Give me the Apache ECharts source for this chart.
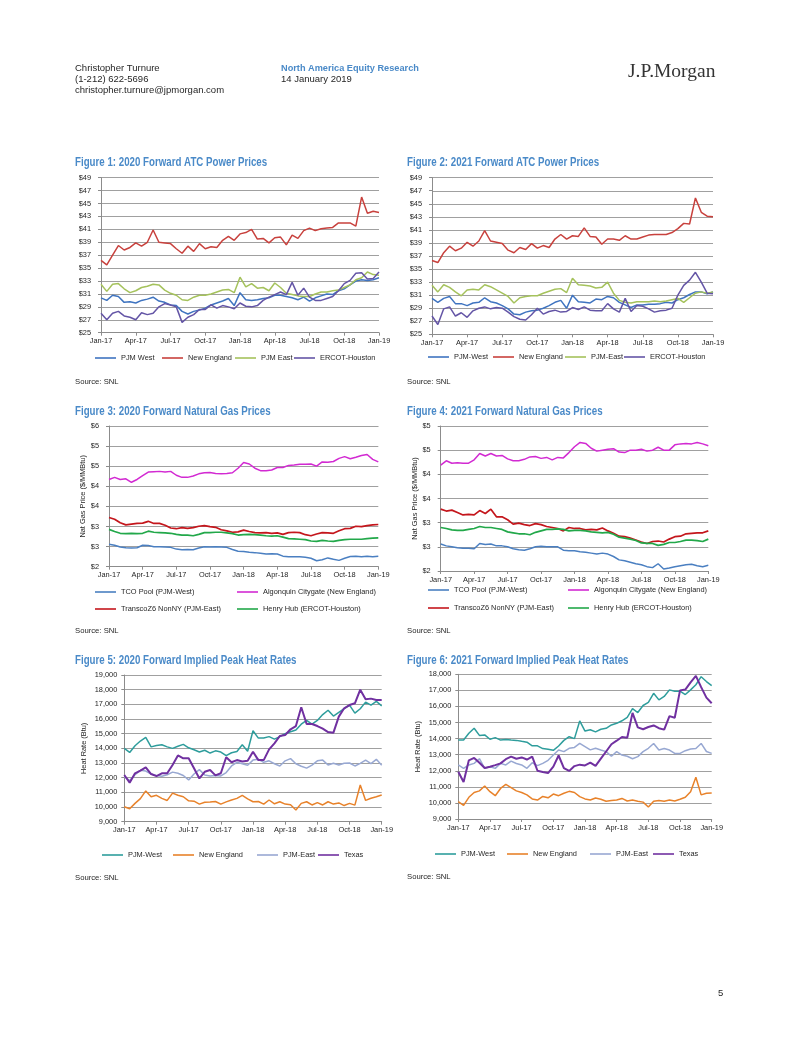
<!DOCTYPE html>
<html><head><meta charset="utf-8">
<script src="https://cdn.jsdelivr.net/npm/echarts@6.0.0/dist/echarts.min.js"></script>
<style>html,body{margin:0;padding:0;background:#fff}#c{width:802px;height:1037px}</style>
</head><body><div id="c"></div>
<script>
// ---------- categories (semi-monthly observations) ----------
const dates = ['2017-01-01','2017-01-15','2017-02-01','2017-02-15','2017-03-01','2017-03-15','2017-04-01','2017-04-15','2017-05-01','2017-05-15','2017-06-01','2017-06-15','2017-07-01','2017-07-15','2017-08-01','2017-08-15','2017-09-01','2017-09-15','2017-10-01','2017-10-15','2017-11-01','2017-11-15','2017-12-01','2017-12-15','2018-01-01','2018-01-15','2018-02-01','2018-02-15','2018-03-01','2018-03-15','2018-04-01','2018-04-15','2018-05-01','2018-05-15','2018-06-01','2018-06-15','2018-07-01','2018-07-15','2018-08-01','2018-08-15','2018-09-01','2018-09-15','2018-10-01','2018-10-15','2018-11-01','2018-11-15','2018-12-01','2018-12-15','2019-01-01'];
const monthNames = ['Jan','Feb','Mar','Apr','May','Jun','Jul','Aug','Sep','Oct','Nov','Dec'];

// ---------- Figure 1: 2020 Forward ATC Power Prices ($/MWh) ----------
const f1PjmWest = [30.4,30.0,30.8,30.6,29.7,29.8,29.6,30.0,30.2,30.5,29.9,29.7,29.3,29.2,28.3,27.9,28.3,28.5,28.8,29.3,29.6,29.9,30.3,29.2,31.2,30.1,30.0,30.1,30.3,30.4,30.8,30.8,30.6,30.4,30.1,30.5,29.9,30.4,30.7,31.0,30.9,31.5,31.8,32.4,33.0,33.2,33.1,33.2,33.5];
const f1NewEngland = [36.2,35.5,37.0,38.5,37.8,38.2,38.9,38.4,39.0,40.9,39.0,38.9,38.8,38.0,37.3,38.4,37.6,38.8,38.0,38.3,38.2,39.3,39.9,39.3,40.3,40.5,41.0,39.5,39.6,38.9,39.7,39.8,38.6,40.1,39.6,40.8,41.2,40.8,41.1,41.2,41.3,42.0,42.0,42.0,41.5,46.0,43.5,43.8,43.6];
const f1PjmEast = [32.5,31.4,32.5,32.6,31.8,31.2,31.5,32.0,32.2,32.5,32.4,31.6,31.1,30.8,30.1,30.0,30.5,30.8,30.8,31.0,31.3,31.6,31.7,31.2,33.6,32.1,32.6,31.9,32.0,31.5,32.7,32.0,31.1,30.9,30.7,30.6,30.6,31.0,31.3,31.3,31.5,31.6,32.0,32.4,33.2,33.5,34.4,34.0,33.9];
const f1Ercot = [28.0,27.0,28.0,28.3,27.6,27.4,27.0,28.1,27.8,28.0,29.0,29.5,29.3,29.0,26.6,27.4,27.8,28.6,28.6,29.3,28.8,29.2,29.0,28.7,29.6,29.1,29.0,29.2,30.0,30.5,30.9,31.3,30.9,32.8,30.8,31.9,30.5,30.0,30.0,30.3,30.6,31.5,32.6,33.1,34.2,34.3,33.3,33.4,34.4];

// ---------- Figure 2: 2021 Forward ATC Power Prices ----------
const f2PjmWest = [30.5,29.9,30.5,30.8,29.7,29.7,29.4,29.8,29.9,30.6,30.0,29.8,29.4,28.9,28.1,28.0,28.4,28.6,28.7,29.0,29.4,29.9,30.2,29.0,31.0,30.0,29.9,29.8,30.4,30.3,30.8,30.6,29.9,29.5,29.1,29.5,29.5,29.6,29.6,29.7,29.9,29.8,30.3,30.6,31.1,31.5,31.5,31.2,31.5];
const f2NewEngland = [36.3,36.0,37.5,38.5,37.8,38.2,39.1,38.5,39.3,40.9,39.3,39.1,38.9,37.9,37.5,38.3,38.0,38.9,38.2,38.6,38.3,39.6,40.3,39.6,40.1,40.0,41.3,40.0,39.9,38.8,39.6,39.6,39.4,40.1,39.6,39.6,39.9,40.2,40.3,40.3,40.3,40.6,41.2,42.0,41.9,45.9,43.7,43.1,43.0];
const f2PjmEast = [32.5,31.5,32.6,32.2,31.5,30.9,31.8,31.9,31.8,32.6,32.3,31.8,31.3,30.8,29.8,30.6,30.8,30.9,30.9,31.3,31.6,31.9,32.0,31.4,33.6,32.6,32.5,32.4,32.1,32.2,33.0,31.3,30.2,29.9,29.8,30.0,30.0,30.0,30.1,30.0,30.1,30.3,30.5,29.9,30.6,31.3,31.5,31.3,31.5];
const f2Ercot = [27.8,26.5,28.9,29.2,27.8,28.3,27.6,28.6,29.0,29.2,28.9,29.1,29.0,28.4,27.7,27.3,27.2,28.0,29.0,28.1,28.5,28.7,28.4,28.5,29.1,28.8,29.2,28.7,28.6,28.6,29.7,28.9,28.4,30.5,28.5,29.4,29.3,28.9,28.4,28.6,28.7,29.0,31.0,32.5,33.3,34.5,33.0,31.3,31.2];

// ---------- Figure 3: 2020 Forward Natural Gas Prices ($/MMBtu) ----------
const f3Tco = [2.64,2.61,2.56,2.54,2.53,2.54,2.61,2.60,2.57,2.57,2.56,2.55,2.50,2.48,2.49,2.48,2.53,2.57,2.56,2.57,2.56,2.55,2.49,2.44,2.43,2.41,2.40,2.38,2.36,2.37,2.36,2.30,2.28,2.28,2.28,2.27,2.24,2.17,2.20,2.25,2.21,2.18,2.24,2.29,2.30,2.28,2.30,2.28,2.30];
const f3Algonquin = [4.48,4.54,4.48,4.50,4.40,4.48,4.59,4.69,4.70,4.71,4.69,4.71,4.60,4.54,4.54,4.58,4.64,4.67,4.68,4.65,4.64,4.65,4.67,4.80,4.96,4.92,4.80,4.73,4.73,4.75,4.82,4.82,4.88,4.89,4.91,4.91,4.92,4.86,4.98,4.97,4.99,5.08,5.13,5.07,5.11,5.16,5.19,5.05,4.98];
const f3Transco = [3.40,3.35,3.25,3.19,3.21,3.23,3.24,3.29,3.23,3.23,3.18,3.10,3.08,3.11,3.09,3.11,3.15,3.17,3.14,3.12,3.05,3.02,2.98,2.99,3.04,3.00,2.97,2.96,2.97,2.95,2.96,2.92,2.97,2.98,2.97,2.91,2.88,2.93,2.97,2.96,2.95,3.02,3.08,3.09,3.15,3.14,3.17,3.19,3.20];
const f3HenryHub = [3.06,3.00,2.95,2.94,2.95,2.94,2.95,3.01,2.98,2.97,2.96,2.95,2.92,2.90,2.90,2.88,2.92,2.97,2.97,2.98,2.98,2.96,2.94,2.90,2.91,2.92,2.91,2.90,2.88,2.87,2.88,2.84,2.80,2.79,2.78,2.77,2.73,2.72,2.75,2.73,2.72,2.75,2.77,2.78,2.78,2.78,2.80,2.81,2.82];

// ---------- Figure 4: 2021 Forward Natural Gas Prices ----------
const f4Tco = [2.56,2.52,2.50,2.48,2.47,2.47,2.46,2.57,2.55,2.56,2.52,2.52,2.50,2.46,2.44,2.43,2.46,2.50,2.51,2.50,2.50,2.50,2.43,2.42,2.42,2.40,2.39,2.37,2.35,2.37,2.35,2.30,2.23,2.21,2.18,2.15,2.13,2.09,2.07,2.15,2.04,2.06,2.09,2.11,2.13,2.14,2.11,2.09,2.12];
const f4Algonquin = [4.19,4.28,4.23,4.24,4.23,4.23,4.30,4.43,4.38,4.43,4.38,4.39,4.32,4.28,4.28,4.31,4.36,4.37,4.33,4.35,4.30,4.35,4.34,4.45,4.57,4.66,4.64,4.54,4.48,4.50,4.52,4.53,4.46,4.45,4.50,4.50,4.52,4.48,4.50,4.56,4.50,4.50,4.61,4.63,4.64,4.63,4.66,4.63,4.59];
const f4Transco = [3.28,3.24,3.26,3.21,3.16,3.17,3.16,3.25,3.19,3.28,3.12,3.12,3.06,2.97,2.99,2.96,2.94,2.98,2.96,2.92,2.90,2.88,2.83,2.90,2.88,2.88,2.85,2.86,2.85,2.89,2.83,2.78,2.72,2.71,2.68,2.64,2.60,2.57,2.61,2.62,2.60,2.66,2.71,2.72,2.77,2.78,2.79,2.79,2.83];
const f4HenryHub = [2.90,2.88,2.85,2.84,2.84,2.86,2.88,2.92,2.90,2.90,2.88,2.86,2.81,2.79,2.77,2.77,2.75,2.80,2.83,2.86,2.86,2.87,2.86,2.83,2.84,2.84,2.83,2.81,2.80,2.79,2.80,2.76,2.70,2.68,2.66,2.63,2.58,2.57,2.57,2.53,2.55,2.59,2.59,2.61,2.64,2.64,2.63,2.61,2.66];

// ---------- Figure 5: 2020 Forward Implied Peak Heat Rates (Btu) ----------
const f5PjmWest = [14000,13720,14180,14500,14750,14100,14200,14250,14100,14000,14140,14270,14040,13900,13750,13870,13680,13830,13750,13500,13700,13780,14250,13800,15200,14700,14700,14800,14630,14800,15000,15130,15250,15650,15900,15650,15900,16300,16600,16200,16450,16700,16950,16400,16700,17150,16950,17200,16900];
const f5NewEngland = [10020,9880,10250,10570,11100,10700,10800,10590,10450,10950,10800,10700,10420,10400,10200,10330,10340,10380,10200,10350,10480,10590,10800,10560,10360,10380,10200,10480,10220,10360,10200,10150,9800,10250,10360,10140,10300,10140,10360,10200,10280,10100,10250,10130,11500,10450,10600,10700,10820];
const f5PjmEast = [12070,11800,12200,12500,12450,12250,12150,12100,12200,12380,12300,12150,11850,12250,12550,12180,12120,12150,12120,12350,12800,13050,12950,12850,13200,13250,13050,13150,12950,12800,13150,13300,12950,12780,12650,12860,13150,13200,12860,12980,12860,12980,13000,12800,12980,13200,12960,13250,12850];
const f5Texas = [12180,11660,12300,12480,12700,12250,12110,12300,12300,12860,13520,13320,13320,12640,11950,12400,12520,12160,12300,13390,13050,13200,13110,13160,13770,13200,13200,13930,14340,14840,14910,15300,15520,16800,15660,15660,15520,15340,15110,15070,16160,16730,16950,17070,18000,17340,17390,17300,17300];

// ---------- Figure 6: 2021 Forward Implied Peak Heat Rates ----------
const f6PjmWest = [13910,13910,14330,14640,14200,14230,13960,14060,13910,13950,13910,13890,13830,13780,13550,13550,13380,13340,13270,13540,13890,14120,14000,15100,14470,14550,14420,14580,14640,14850,14950,15110,15320,15860,15620,16060,16250,16820,16410,16620,17030,16950,16950,16740,17030,17350,17850,17550,17300];
const f6NewEngland = [10080,9850,10350,10650,10750,11050,10700,10450,10900,11150,10950,10750,10650,10500,10250,10180,10400,10320,10550,10450,10600,10720,10650,10390,10250,10180,10310,10230,10100,10150,10180,10280,10120,10180,10100,10050,9750,10100,10150,10100,10180,10120,10230,10350,10700,11600,10500,10600,10620];
const f6PjmEast = [12360,12150,12360,12460,12750,12150,12250,12150,12460,12360,12600,12450,12360,12150,12500,12320,12460,12650,12980,13290,13190,13400,13450,13700,13500,13300,13400,13290,13190,12900,13190,12980,12900,12750,12880,13190,13400,13700,13290,13380,13290,13080,13080,13250,13350,13380,13700,13200,13080];
const f6Texas = [11940,11300,12650,12800,12500,12170,12250,12350,12460,12720,12880,12750,12830,12700,12880,12000,11920,11860,12260,12950,12170,11990,12290,12380,12330,12500,12300,12750,13200,13650,13870,14100,14050,15600,14700,14580,14720,14820,14650,14560,15400,15300,17000,17050,17500,17900,17200,16550,16200];

// ---------- text ----------
const titles = ['Figure 1: 2020 Forward ATC Power Prices','Figure 2: 2021 Forward ATC Power Prices','Figure 3: 2020 Forward Natural Gas Prices','Figure 4: 2021 Forward Natural Gas Prices','Figure 5: 2020 Forward Implied Peak Heat Rates','Figure 6: 2021 Forward Implied Peak Heat Rates'];

// ---------- font detection ----------
function hasFont(f){
  const c=document.createElement('canvas').getContext('2d');
  const t='Jan-17 New England WMmwi 0123';
  c.font='20px monospace'; const a=c.measureText(t).width;
  c.font='20px "'+f+'", monospace'; const b=c.measureText(t).width;
  return Math.abs(a-b)>0.5;
}
const NARROW = hasFont('Liberation Sans Narrow');
const CF = NARROW ? '"Liberation Sans Narrow","Arial Narrow",sans-serif' : '"Liberation Sans",Arial,sans-serif';
const CFS = NARROW ? 8.7 : 7.4;
const SANS = '"Liberation Sans",Arial,sans-serif';
const TXT = '#262626', AX = '#8c8c8c', GRIDC = '#a0a0a0';

const dateFmt = v => monthNames[+v.slice(5,7)-1] + '-' + v.slice(2,4);
const comma = v => Math.round(v).toLocaleString('en-US');

const charts = [
  {l:101, t:177.7, w:278, h:155, min:25, max:49, iv:2, fmt:v=>'$'+Math.round(v), lm:10},
  {l:432, t:177.7, w:281, h:156.6, min:25, max:49, iv:2, fmt:v=>'$'+Math.round(v), lm:10},
  {l:109, t:426, w:269.3, h:140.7, min:2, max:6, iv:4/7, fmt:v=>'$'+Math.round(v), lm:10, name:'Nat Gas Price ($/MMBtu)', ng:20},
  {l:440.7, t:426, w:267.6, h:145, min:2, max:5, iv:0.5, fmt:v=>'$'+Math.round(v), lm:10, name:'Nat Gas Price ($/MMBtu)', ng:20},
  {l:124.3, t:675, w:257.4, h:146.7, min:9000, max:19000, iv:1000, fmt:comma, lm:7, name:'Heat Rate (Btu)', ng:37},
  {l:458.3, t:674.3, w:253.4, h:144.7, min:9000, max:18000, iv:1000, fmt:comma, lm:7, name:'Heat Rate (Btu)', ng:37}
];

const C = {
  blue:'#3f74c0', red:'#c8413d', green:'#a5c25c', purple:'#6455a6',
  tco:'#4a7fc1', alg:'#d22ad2', tra:'#c4161c', hh:'#22a84a',
  teal:'#2e9d9c', orange:'#e8822a', grey:'#98a8d2', texas:'#7030a0'
};

// series specs: [chart, name, data, color, width, legendX, legendY]
const specs = [
  [0,'PJM West',f1PjmWest,C.blue,1.5,95,358],
  [0,'New England',f1NewEngland,C.red,1.5,162,358],
  [0,'PJM East',f1PjmEast,C.green,1.5,235,358],
  [0,'ERCOT-Houston',f1Ercot,C.purple,1.5,294,358],
  [1,'PJM-West',f2PjmWest,C.blue,1.5,428,357],
  [1,'New England',f2NewEngland,C.red,1.5,493,357],
  [1,'PJM-East',f2PjmEast,C.green,1.5,565,357],
  [1,'ERCOT-Houston',f2Ercot,C.purple,1.5,624,357],
  [2,'TCO Pool (PJM-West)',f3Tco,C.tco,1.5,95,592],
  [2,'TranscoZ6 NonNY (PJM-East)',f3Transco,C.tra,1.7,95,609],
  [2,'Algonquin Citygate (New England)',f3Algonquin,C.alg,1.5,237,592],
  [2,'Henry Hub (ERCOT-Houston)',f3HenryHub,C.hh,1.7,237,609],
  [3,'TCO Pool (PJM-West)',f4Tco,C.tco,1.5,428,590],
  [3,'TranscoZ6 NonNY (PJM-East)',f4Transco,C.tra,1.7,428,608],
  [3,'Algonquin Citygate (New England)',f4Algonquin,C.alg,1.5,568,590],
  [3,'Henry Hub (ERCOT-Houston)',f4HenryHub,C.hh,1.7,568,608],
  [4,'PJM-West',f5PjmWest,C.teal,1.5,102,855],
  [4,'New England',f5NewEngland,C.orange,1.5,173,855],
  [4,'PJM-East',f5PjmEast,C.grey,1.5,257,855],
  [4,'Texas',f5Texas,C.texas,2,318,855],
  [5,'PJM-West',f6PjmWest,C.teal,1.5,435,854],
  [5,'New England',f6NewEngland,C.orange,1.5,507,854],
  [5,'PJM-East',f6PjmEast,C.grey,1.5,590,854],
  [5,'Texas',f6Texas,C.texas,2,653,854]
];

const grid=[], xAxis=[], yAxis=[], series=[], legend=[];
charts.forEach((c,k)=>{
  grid.push({left:c.l, top:c.t, width:c.w, height:c.h, containLabel:false});
  xAxis.push({type:'category', gridIndex:k, data:dates, boundaryGap:false,
    axisLine:{show:true, onZero:false, lineStyle:{color:AX, width:1}},
    axisTick:{show:true, interval:5, length:3, lineStyle:{color:AX}},
    axisLabel:{interval:5, formatter:dateFmt, fontFamily:CF, fontSize:CFS, color:TXT, margin:5, hideOverlap:false},
    splitLine:{show:false}});
  const y = {type:'value', gridIndex:k, min:c.min, max:c.max, interval:c.iv,
    axisLine:{show:true, lineStyle:{color:AX, width:1}},
    axisTick:{show:true, length:3, lineStyle:{color:AX}},
    splitLine:{show:true, lineStyle:{color:GRIDC, width:1}},
    axisLabel:{formatter:c.fmt, fontFamily:CF, fontSize:CFS, color:TXT, margin:c.lm, hideOverlap:false, showMinLabel:true, showMaxLabel:true}};
  if (c.name) Object.assign(y, {name:c.name, nameLocation:'middle', nameRotate:90, nameGap:c.ng, nameTextStyle:{fontFamily:CF, fontSize:CFS, color:TXT}});
  yAxis.push(y);
});
specs.forEach((s,i)=>{
  const id = s[1]+'#'+i;
  series.push({type:'line', name:id, xAxisIndex:s[0], yAxisIndex:s[0], data:s[2], symbol:'none', showSymbol:false,
    lineStyle:{color:s[3], width:s[4]}, itemStyle:{color:s[3]}, color:s[3], animation:false, silent:true, z:2+i%4});
  legend.push({data:[{name:id, icon:'rect'}], left:s[5], top:s[6]-6, itemWidth:21, itemHeight:1.6, itemGap:0, padding:0,
    selectedMode:false, formatter:n=>n.split('#')[0],
    itemStyle:{color:s[3], borderWidth:0},
    textStyle:{fontFamily:CF, fontSize:CFS, color:TXT, lineHeight:12, height:12}});
});

// ---------- free text ----------
const graphic = [];
function txt(x,y,text,font,fill,extra){ graphic.push(Object.assign({type:'text', x:x, y:y, silent:true,
  style:{text:text, font:font, fill:fill, verticalAlign:'middle', textVerticalAlign:'middle', align:'left'}}, extra||{})); }
txt(75,68,'Christopher Turnure','9.5px '+SANS,'#262626');
txt(75,79,'(1-212) 622-5696','9.5px '+SANS,'#262626');
txt(75,90,'christopher.turnure@jpmorgan.com','9.5px '+SANS,'#262626');
txt(281,68,'North America Equity Research','bold 9.2px '+SANS,'#4a8ac8');
txt(281,79,'14 January 2019','9.5px '+SANS,'#262626');
txt(628,72,'J.P.Morgan','19.5px "Liberation Serif","Times New Roman",serif','#333333');
const titlePos = [[75,162.5],[407,162.5],[75,411.5],[407,411.5],[75,661],[407,660.5]];
titles.forEach((t,i)=>{
  if (NARROW) txt(titlePos[i][0], titlePos[i][1], t, 'bold 12px "Liberation Sans Narrow",sans-serif', '#4a8ac8');
  else txt(titlePos[i][0], titlePos[i][1], t, 'bold 12px '+SANS, '#4a8ac8', {scaleX:0.81});
});
[[75,382],[407,382],[75,631],[407,631],[75,878],[407,877]].forEach(p=>txt(p[0],p[1],'Source: SNL',(CFS+0.3)+'px '+CF,'#262626'));
txt(718,993,'5','9.5px '+SANS,'#262626');

const chart = echarts.init(document.getElementById('c'), null, {renderer:'canvas', width:802, height:1037});
chart.setOption({backgroundColor:'#ffffff', animation:false, grid, xAxis, yAxis, series, legend, graphic, tooltip:{show:false}});
</script></body></html>
